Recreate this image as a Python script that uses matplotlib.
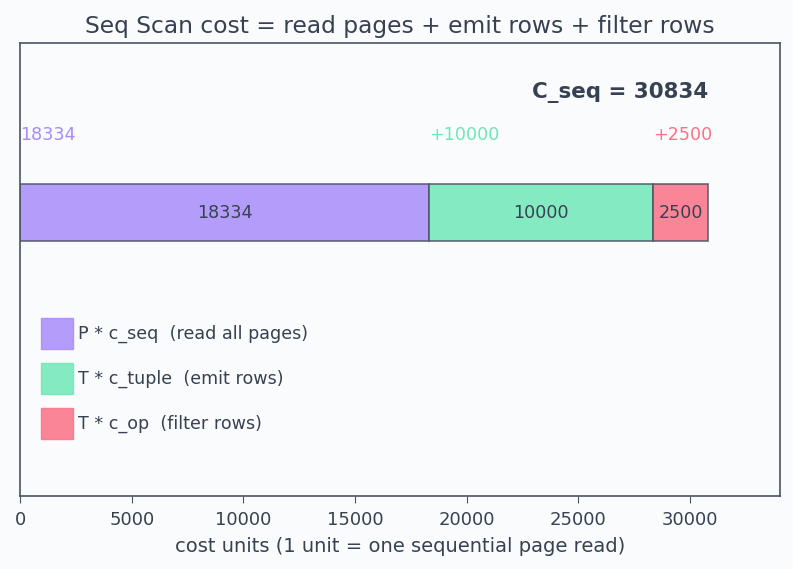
import matplotlib
matplotlib.use("Agg")
import matplotlib.pyplot as plt
from matplotlib.patches import Patch

components = ["P * c_seq  (read all pages)", "T * c_tuple  (emit rows)", "T * c_op  (filter rows)"]
values = [18334, 10000, 2500]
top_labels = ["18334", "+10000", "+2500"]
colors = ["#a78bfa", "#6ee7b7", "#fb7185"]
total = sum(values)
title = "Seq Scan cost = read pages + emit rows + filter rows"
xlabel = "cost units (1 unit = one sequential page read)"

bg = "#fafbfd"
ink = "#374151"
edge = "#4b5263"

fig = plt.figure(figsize=(7.93, 5.69), dpi=100, facecolor=bg)
ax = fig.add_axes([20.3/793, 1-495.7/569, 759.7/793, 452.7/569], facecolor=bg)

left = 0
for v, c, tl in zip(values, colors, top_labels):
    ax.barh(0, v, left=left, height=0.5, color=c, alpha=0.85, edgecolor=edge, linewidth=1.2)
    ax.text(left + v/2, 0, str(v), ha="center", va="center", fontsize=12.6, color=ink)
    ax.text(left, 0.69, tl, ha="left", va="center", fontsize=12.6, color=c)
    left += v

ax.text(total, 1.06, f"C_seq = {total}", ha="right", va="center", fontsize=15.4,
        fontweight="bold", color=ink)

ax.set_xlim(0, total * 1.104)
ax.set_ylim(-2.5, 1.5)
ax.set_yticks([])
ax.set_xticks(range(0, 30001, 5000))
ax.tick_params(axis="x", colors=ink, labelsize=13, length=5, pad=6, color=edge)
for s in ax.spines.values():
    s.set_color(edge)
    s.set_linewidth(1.2)
ax.set_xlabel(xlabel, fontsize=14, color=ink, labelpad=6)
ax.set_title(title, fontsize=16.8, color=ink, pad=7)

handles = [Patch(facecolor=c, edgecolor=c, alpha=0.85, label=l) for c, l in zip(colors, components)]
leg = ax.legend(handles=handles, loc="lower left", bbox_to_anchor=(0.0184, 0.11), frameon=False,
                fontsize=12.6, handlelength=1.83, handleheight=2.35, labelspacing=0.8,
                handletextpad=0.29, borderaxespad=0)
for t in leg.get_texts():
    t.set_color(ink)

fig.savefig("out.png", dpi=100, facecolor=bg)
